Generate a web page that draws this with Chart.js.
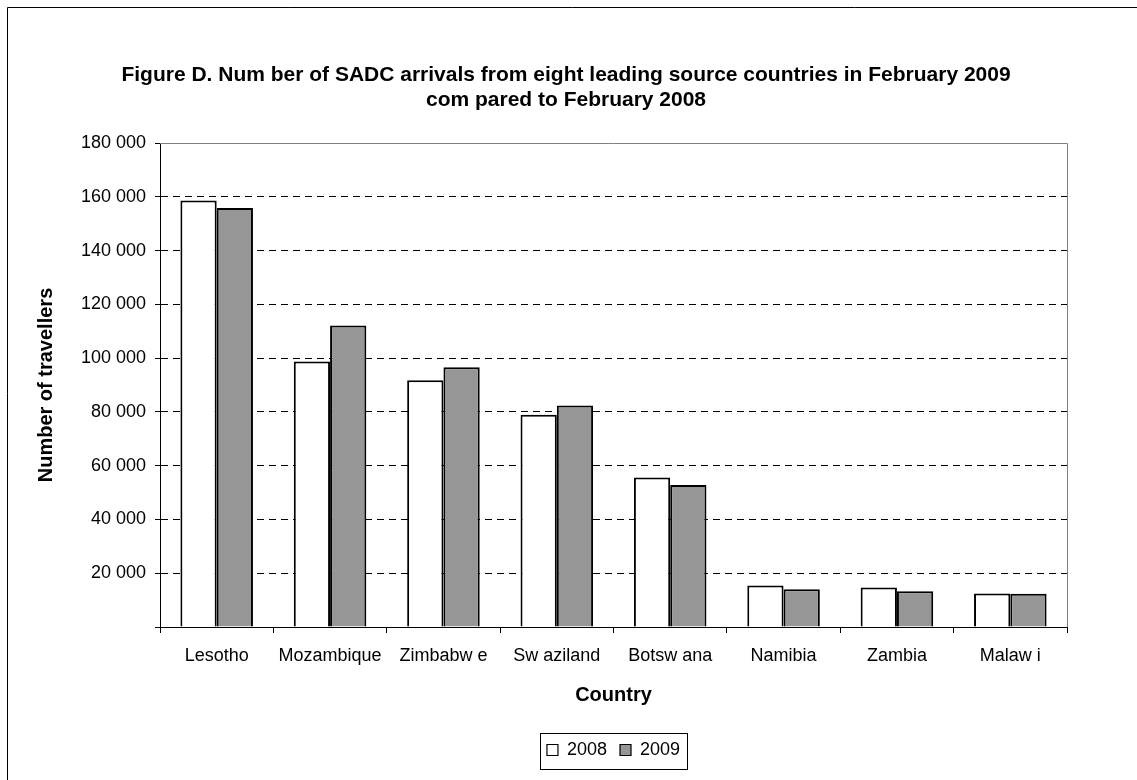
<!DOCTYPE html>
<html>
<head>
<meta charset="utf-8">
<script src="https://cdn.jsdelivr.net/npm/chart.js@4"></script>
<style>
  html, body { margin: 0; padding: 0; background: #fff; }
  #wrap { width: 1137px; height: 780px; position: relative; }
</style>
</head>
<body>
<div id="wrap"><canvas id="sadcChart" width="1137" height="780"></canvas></div>
<script>
const categories = ['Lesotho', 'Mozambique', 'Zimbabw e', 'Sw aziland', 'Botsw ana', 'Namibia', 'Zambia', 'Malaw i'];
const arrivals2008 = [158600, 98700, 91800, 78900, 55600, 15400, 14700, 12500];
const arrivals2009 = [155800, 112100, 96600, 82400, 52800, 14000, 13300, 12400];
const seriesNames = ['2008', '2009'];
const yTicks = [0, 20000, 40000, 60000, 80000, 100000, 120000, 140000, 160000, 180000];
const titleLines = ['Figure D. Num ber of SADC arrivals from eight leading source countries in February 2009', 'com pared to February 2008'];

const FONT = '"Liberation Sans", Arial, sans-serif';

// figure frame (cropped at right/bottom), plot border top/right, box round the legend
const framePlugin = {
    id: 'frames',
    afterDraw(chart) {
        const ctx = chart.ctx;
        const a = chart.chartArea;
        ctx.save();
        ctx.strokeStyle = '#000';
        ctx.lineWidth = 1;
        ctx.beginPath();
        ctx.moveTo(7.5, 780);
        ctx.lineTo(7.5, 7.5);
        ctx.lineTo(1137, 7.5);
        ctx.stroke();

        ctx.strokeStyle = '#808080';
        ctx.beginPath();
        ctx.moveTo(a.left, Math.round(a.top) + 0.5);
        ctx.lineTo(Math.round(a.right) + 0.5, Math.round(a.top) + 0.5);
        ctx.lineTo(Math.round(a.right) + 0.5, a.bottom);
        ctx.stroke();

        const boxes = chart.legend.legendHitBoxes;
        if (boxes && boxes.length) {
            const first = boxes[0], last = boxes[boxes.length - 1];
            const mid = first.top + first.height / 2;
            const x1 = Math.round(first.left) - 6.5;
            const x2 = Math.round(last.left + last.width) + 7.5;
            const y1 = Math.round(mid) - 16.5;
            const y2 = Math.round(mid) + 19.5;
            ctx.strokeStyle = '#000';
            ctx.strokeRect(x1, y1, x2 - x1, y2 - y1);
        }
        ctx.restore();
    }
};

const ctx = document.getElementById('sadcChart').getContext('2d');
new Chart(ctx, {
    type: 'bar',
    data: {
        labels: categories,
        datasets: [{
            label: seriesNames[0],
            data: arrivals2008,
            backgroundColor: '#ffffff',
            borderColor: '#000000',
            borderWidth: 2,
            borderSkipped: 'bottom'
        }, {
            label: seriesNames[1],
            data: arrivals2009,
            backgroundColor: '#969696',
            borderColor: '#000000',
            borderWidth: 2,
            borderSkipped: 'bottom'
        }]
    },
    options: {
        responsive: false,
        animation: false,
        devicePixelRatio: 1,
        layout: { padding: { top: 0, left: 0, right: 5, bottom: 11 } },
        datasets: { bar: { categoryPercentage: 0.64, barPercentage: 1 } },
        plugins: {
            title: {
                display: true,
                text: titleLines,
                color: '#000',
                font: { family: FONT, size: 21, weight: 'bold', lineHeight: '25px' },
                padding: { top: 62.5, bottom: 30.5 }
            },
            legend: {
                display: true,
                position: 'bottom',
                fullSize: false,
                labels: {
                    color: '#000',
                    font: { family: FONT, size: 18 },
                    boxWidth: 11,
                    boxHeight: 11,
                    padding: 13,
                    generateLabels: (chart) => Chart.defaults.plugins.legend.labels.generateLabels(chart)
                        .map(item => Object.assign(item, { lineWidth: 1.2 }))
                }
            },
            tooltip: { enabled: false }
        },
        scales: {
            x: {
                grid: {
                    display: true,
                    offset: true,
                    drawOnChartArea: false,
                    drawTicks: true,
                    tickLength: 6,
                    tickColor: '#000'
                },
                border: { display: true, color: '#000', width: 1 },
                ticks: {
                    color: '#000',
                    font: { family: FONT, size: 18 },
                    padding: 12,
                    maxRotation: 0,
                    autoSkip: false
                },
                title: {
                    display: true,
                    text: 'Country',
                    color: '#000',
                    font: { family: FONT, size: 20, weight: 'bold' },
                    padding: { top: 0, bottom: 21 }
                },
                afterFit: (scale) => { scale.height = 101; }
            },
            y: {
                min: 0,
                max: 180000,
                afterBuildTicks: (scale) => { scale.ticks = yTicks.map(v => ({ value: v })); },
                grid: {
                    color: (c) => (c.tick && (c.tick.value === 0 || c.tick.value === 180000)) ? 'rgba(0,0,0,0)' : '#000',
                    lineWidth: 1,
                    drawTicks: true,
                    tickLength: 5,
                    tickColor: '#000',
                    tickBorderDash: []
                },
                border: { display: true, color: '#000', width: 1, dash: [7, 5] },
                ticks: {
                    color: '#000',
                    font: { family: FONT, size: 18 },
                    padding: 9,
                    callback: (v) => v === 0 ? '' : String(v).replace(/\B(?=(\d{3})+(?!\d))/g, ' ')
                },
                title: {
                    display: true,
                    text: 'Number of travellers',
                    color: '#000',
                    font: { family: FONT, size: 20, weight: 'bold' },
                    padding: { top: 34, bottom: 0 }
                },
                afterFit: (scale) => { scale.width = 160; }
            },
            // empty right-hand axis, only keeps the margin right of the plot
            yRight: {
                type: 'linear',
                position: 'right',
                display: true,
                grid: { display: false, drawTicks: false },
                border: { display: false },
                ticks: { display: false },
                afterFit: (scale) => { scale.width = 65; }
            }
        }
    },
    plugins: [framePlugin]
});
</script>
</body>
</html>
